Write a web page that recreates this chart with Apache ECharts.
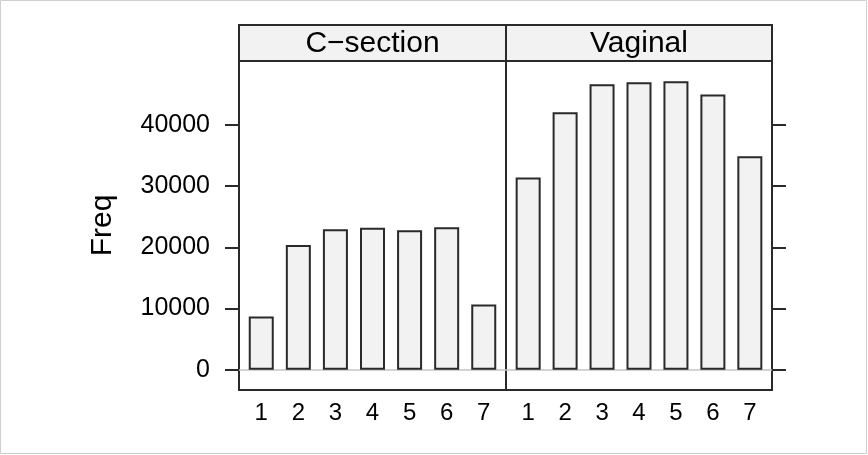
<!DOCTYPE html>
<html>
<head>
<meta charset="utf-8">
<script src="https://cdn.jsdelivr.net/npm/echarts@6/dist/echarts.min.js"></script>
<style>
html,body{margin:0;padding:0;background:#fff;}
#chart{width:868px;height:455px;}
</style>
</head>
<body>
<div id="chart"></div>
<script>
// ---- data ----
const categories = ['1', '2', '3', '4', '5', '6', '7'];
const panels = ['C\u2212section', 'Vaginal'];
const csectionFreq = [8700, 20400, 22970, 23180, 22800, 23290, 10660];
const vaginalFreq = [31400, 42070, 46640, 46970, 47130, 44950, 34890];
const yTicks = [0, 10000, 20000, 30000, 40000];
const yTitle = 'Freq';

// ---- layout ----
const FONT = '"Liberation Sans", Arial, Helvetica, sans-serif';
const yMin = -3300, yMax = 50430;
const g0 = {left: 239, top: 61, width: 267, height: 329};
const g1 = {left: 506, top: 61, width: 266, height: 329};
const stripTop = 25, stripH = 36;
const border = '#2a2a2a';
const LW = 2;

const xVals = categories.map((c, i) => i + 1);
function toData(arr) { return arr.map((v, i) => [i + 1, v]); }

function xAxis(gi) {
  return {
    type: 'value', gridIndex: gi, min: 0.4, max: 7.6,
    axisLine: {show: false, onZero: false},
    axisTick: {show: false},
    splitLine: {show: false},
    axisLabel: {
      customValues: xVals,
      formatter: v => categories[Math.round(v) - 1],
      fontSize: 24, color: '#000', fontFamily: FONT, margin: 11
    }
  };
}

function yAxis(gi, pos, labels) {
  return {
    type: 'value', gridIndex: gi, position: pos, min: yMin, max: yMax,
    axisLine: {show: false, onZero: false},
    axisTick: {show: true, inside: false, length: 14, customValues: yTicks,
               lineStyle: {color: border, width: LW}},
    splitLine: {show: false},
    axisLabel: {
      show: labels, customValues: yTicks,
      formatter: v => String(v),
      fontSize: 25, color: '#000', fontFamily: FONT, margin: 29
    }
  };
}

function barSeries(idx, arr) {
  return {
    type: 'bar', xAxisIndex: idx, yAxisIndex: idx,
    data: toData(arr), barWidth: 25,
    itemStyle: {color: '#f2f2f2', borderColor: border, borderWidth: LW},
    markLine: {
      silent: true, symbol: 'none', label: {show: false},
      lineStyle: {color: '#c4c4c4', type: 'solid', width: 1.5},
      data: [{yAxis: 0}], z: 1
    },
    z: 3
  };
}

const chart = echarts.init(document.getElementById('chart'), null, {renderer: 'canvas'});
const stripStyle = {fill: '#f2f2f2', stroke: border, lineWidth: LW};
const gridBase = {show: true, borderColor: border, borderWidth: LW, backgroundColor: 'transparent'};
chart.setOption({
  animation: false,
  backgroundColor: '#fff',
  grid: [Object.assign({}, gridBase, g0), Object.assign({}, gridBase, g1)],
  xAxis: [xAxis(0), xAxis(1)],
  yAxis: [yAxis(0, 'left', true), yAxis(1, 'right', false)],
  series: [barSeries(0, csectionFreq), barSeries(1, vaginalFreq)],
  graphic: [
    {type: 'rect', shape: {x: 0.5, y: 0.5, width: 866, height: 453}, style: {fill: 'none', stroke: '#cfcfcf', lineWidth: 1}, z: 0, silent: true},
    {type: 'rect', shape: {x: g0.left, y: stripTop, width: g0.width, height: stripH}, style: stripStyle, z: 10},
    {type: 'rect', shape: {x: g1.left, y: stripTop, width: g1.width, height: stripH}, style: stripStyle, z: 10},
    {type: 'text', x: g0.left + g0.width / 2, y: stripTop + stripH / 2 + 1, z: 11,
     style: {text: panels[0], fontSize: 30, fontFamily: FONT, fill: '#000', textAlign: 'center', textVerticalAlign: 'middle'}},
    {type: 'text', x: g1.left + g1.width / 2, y: stripTop + stripH / 2 + 1, z: 11,
     style: {text: panels[1], fontSize: 30, fontFamily: FONT, fill: '#000', textAlign: 'center', textVerticalAlign: 'middle'}},
    {type: 'text', x: 103, y: g0.top + g0.height / 2, rotation: Math.PI / 2, z: 11,
     style: {text: yTitle, fontSize: 30, fontFamily: FONT, fill: '#000', textAlign: 'center', textVerticalAlign: 'middle'}}
  ]
});
</script>
</body>
</html>
